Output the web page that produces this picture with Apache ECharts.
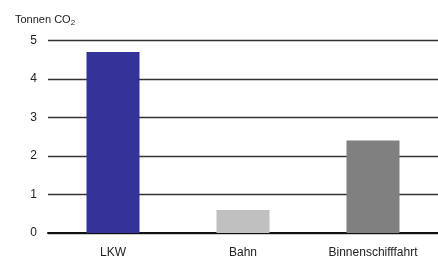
<!DOCTYPE html>
<html>
<head>
<meta charset="utf-8">
<script src="https://cdn.jsdelivr.net/npm/echarts@6/dist/echarts.min.js"></script>
<style>
  html, body { margin: 0; padding: 0; background: #fff; }
  #chart { width: 438px; height: 259px; }
</style>
</head>
<body>
<div id="chart"></div>
<script>
// data
const categories = ['LKW', 'Bahn', 'Binnenschifffahrt'];
const values = [4.7, 0.6, 2.4];
const barColors = ['#333399', '#c0c0c0', '#808080'];
const yTicks = [0, 1, 2, 3, 4, 5];

var myChart = echarts.init(document.getElementById('chart'));

const option = {
    animation: false,
    textStyle: { fontFamily: 'Liberation Sans' },
    title: {
        text: '{a|Tonnen CO}{b|2}',
        left: 10,
        top: 8,
        textStyle: {
            fontWeight: 'normal',
            rich: {
                a: { fontSize: 11, color: '#222', fontWeight: 'normal', fontFamily: 'Liberation Sans' },
                b: { fontSize: 8, color: '#222', fontWeight: 'normal', fontFamily: 'Liberation Sans', padding: [6, 0, 0, 0] }
            }
        }
    },
    grid: {
        left: 48,
        top: 40.5,
        width: 395,
        height: 193
    },
    xAxis: {
        type: 'category',
        data: categories,
        axisTick: { show: false },
        axisLine: { lineStyle: { color: '#111', width: 2 } },
        axisLabel: { color: '#222', fontSize: 12, margin: 14 }
    },
    yAxis: {
        type: 'value',
        min: yTicks[0],
        max: yTicks[yTicks.length - 1],
        interval: 1,
        axisLine: { show: false },
        axisTick: { show: false },
        axisLabel: { color: '#222', fontSize: 12, margin: 11 },
        splitLine: { lineStyle: { color: '#333', width: 1.3 } }
    },
    series: [
        {
            type: 'bar',
            barWidth: 53,
            data: values.map((v, i) => ({ value: v, itemStyle: { color: barColors[i] } }))
        }
    ]
};

myChart.setOption(option);
</script>
</body>
</html>
